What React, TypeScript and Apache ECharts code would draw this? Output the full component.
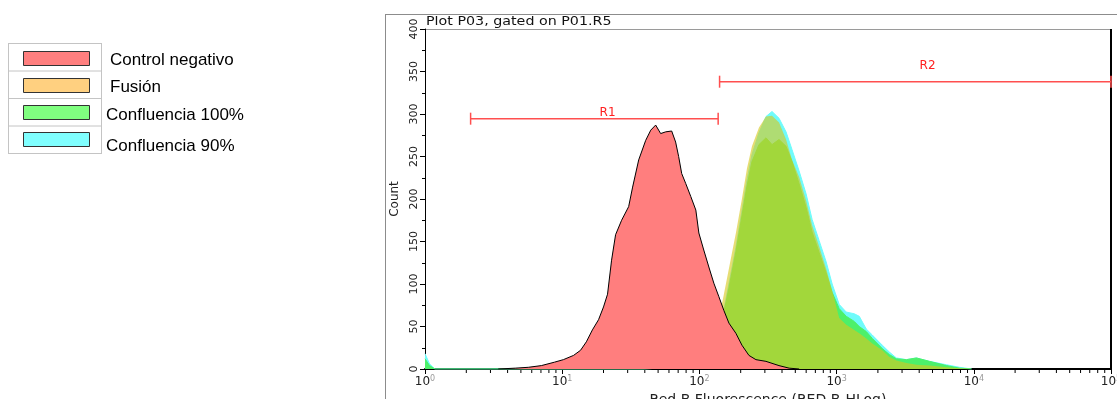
import React, { useEffect, useRef } from "react";
import * as echarts from "echarts";

const seriesNames = ["Control negativo", "Fusión", "Confluencia 100%", "Confluencia 90%"];
const legendColors = ["#ff7f7f", "#ffd080", "#80ff80", "#80ffff"];

// Control negativo: fluorescence (RED-B-HLog) and count
const controlX = [3.42, 4.55, 5.66, 7.05, 8.77, 10.2, 12.1, 13.6, 15.0, 16.6, 18.4, 20.0, 21.4, 22.9, 24.5, 27.1, 30.5, 32.6, 36.1, 40.6, 44.2, 48.0, 52.2, 56.8, 62.8, 67.1, 70.6, 74.3, 79.6, 86.5, 94.2, 99.1, 107.6, 117.2, 127.4, 138.7, 150.7, 164.1, 184.5, 204.2, 229.6, 258.2, 305.5, 380.2, 450.8, 533.3];
const controlCount = [0, 1, 2, 4, 8, 11, 16, 22, 32, 46, 58, 73, 88, 128, 158, 175, 191, 214, 246, 269, 281, 287, 277, 279, 280, 267, 250, 230, 218, 203, 187, 160, 140, 120, 101, 85, 69, 54, 42, 28, 16, 11, 9, 4, 1, 0];

// shared fluorescence positions of the three right-hand histograms
const peakX = [39.2, 50.5, 70.7, 83.7, 99.0, 117.1, 131.8, 145.8, 164.0, 184.5, 204.1, 222.1, 241.6, 271.8, 305.8, 338.3, 380.6, 428.2, 473.6, 532.9, 599.6, 663.1, 746.2, 839.5, 928.6, 1044.7, 1175.5, 1345, 1463, 1646, 1820, 2154, 2424, 2727, 3227, 3818, 4753, 6327, 7874, 9636];
const fusionCount = [1, 3, 8, 16, 25, 38, 52, 76, 118, 160, 200, 236, 262, 284, 297, 298, 290, 270, 246, 226, 198, 169, 144, 118, 92, 60, 52, 46, 42, 36, 30, 22, 14, 10, 7, 5, 4, 2, 1, 0];
const conf100Count = [0, 1, 3, 7, 13, 24, 35, 55, 95, 138, 180, 215, 244, 264, 272, 264, 270, 262, 244, 218, 190, 161, 137, 113, 90, 71, 62, 56, 50, 44, 36, 24, 17, 12, 11, 13, 9, 4, 1, 0];
const conf90Count = [0, 1, 4, 8, 14, 26, 37, 58, 100, 143, 186, 222, 252, 278, 297, 303, 295, 279, 258, 233, 206, 176, 151, 126, 100, 76, 67, 65, 62, 47, 40, 28, 20, 13, 11, 13, 9, 5, 2, 0];

// first-channel pile-up
const lowEndX = [1, 1.08, 1.18];
const conf100LowEnd = [12, 4, 0];
const conf90LowEnd = [18, 6, 0];

// gates
const gateNames = ["R1", "R2"];
const gateStart = [2.15, 140.3];
const gateEnd = [137, 100000];
const gateLevel = [294.5, 338];
const gateLabelX = [21.4, 4600];
const gateLabelLevel = [302, 358];

const xTickExponents = [0, 1, 2, 3, 4, 5];

const pairs = (xs: number[], ys: number[]) => xs.map((x, i) => [x, ys[i]]);

const RED_FILL = "#ff7e7e";

export default function App() {
  const ref = useRef<HTMLDivElement>(null);

  useEffect(() => {
    if (!ref.current) return;
    const el = ref.current;
    const chart = echarts.init(el, undefined, { renderer: "svg" });

    const minorTicks: number[][] = [];
    for (let n = 0; n < xTickExponents.length - 1; n++) {
      for (let k = 2; k <= 9; k++) minorTicks.push([k * Math.pow(10, xTickExponents[n]), 0]);
    }

    const legendRows = [43.5, 71, 98.5, 126, 153.5];
    const swatchY = [51, 78, 105, 132];
    const labelX = [110, 110, 106, 106];
    const labelY = [59, 86.5, 114.5, 145];

    const graphic: any[] = [
      { type: "line", shape: { x1: 385, y1: 14.5, x2: 1117, y2: 14.5 }, style: { stroke: "#8c8c8c", lineWidth: 1 } },
      { type: "line", shape: { x1: 385.5, y1: 14, x2: 385.5, y2: 399 }, style: { stroke: "#8c8c8c", lineWidth: 1 } },
      { type: "line", shape: { x1: 425, y1: 29.5, x2: 1111, y2: 29.5 }, style: { stroke: "#9a9a9a", lineWidth: 1 } },
      { type: "line", shape: { x1: 1111, y1: 29, x2: 1111, y2: 370 }, style: { stroke: "#000", lineWidth: 2 } },
      {
        type: "text", x: 426, y: 21, scaleX: 1.19,
        style: { text: "Plot P03, gated on P01.R5", fill: "#111", font: '12px "DejaVu Sans"', align: "left", verticalAlign: "middle" },
      },
      { type: "line", shape: { x1: 8.5, y1: 43, x2: 8.5, y2: 154 }, style: { stroke: "#c4c4c4", lineWidth: 1 } },
      { type: "line", shape: { x1: 101.5, y1: 43, x2: 101.5, y2: 154 }, style: { stroke: "#c4c4c4", lineWidth: 1 } },
    ];
    legendRows.forEach((y) =>
      graphic.push({ type: "line", shape: { x1: 8, y1: y, x2: 102, y2: y }, style: { stroke: "#c4c4c4", lineWidth: 1 } })
    );
    seriesNames.forEach((name, i) => {
      graphic.push({
        type: "rect", shape: { x: 23.5, y: swatchY[i] + 0.5, width: 66, height: 14 },
        style: { fill: legendColors[i], stroke: "#333", lineWidth: 1 },
      });
      graphic.push({
        type: "text", x: labelX[i], y: labelY[i],
        style: { text: name, fill: "#000", font: '17px "Liberation Sans"', align: "left", verticalAlign: "middle" },
      });
    });

    chart.setOption({
      animation: false,
      grid: { left: 425, right: 6, top: 29, bottom: 30, containLabel: false, outerBoundsMode: "none" },
      xAxis: {
        type: "log", logBase: 10, min: 1, max: 100000, splitNumber: 5,
        name: "Red-B Fluorescence (RED-B-HLog)", nameLocation: "middle", nameGap: 17,
        nameTextStyle: { fontFamily: "DejaVu Sans", fontSize: 14, color: "#222" },
        axisLine: { show: true, lineStyle: { color: "#000", width: 2 } },
        axisTick: { show: true, length: 5, lineStyle: { color: "#000", width: 1 } },
        minorTick: { show: false },
        splitLine: { show: false },
        axisLabel: {
          margin: 5,
          formatter: (v: number) => `{b|10}{s|${Math.round(Math.log10(v))}}`,
          rich: {
            b: { fontFamily: "DejaVu Sans", fontSize: 12, color: "#222", lineHeight: 14 },
            s: { fontFamily: "DejaVu Sans", fontSize: 8, color: "#9a9a9a", verticalAlign: "top", lineHeight: 14 },
          },
        },
      },
      yAxis: {
        type: "value", min: 0, max: 400, interval: 50,
        name: "Count", nameLocation: "middle", nameGap: 24,
        nameTextStyle: { fontFamily: "DejaVu Sans", fontSize: 12, color: "#222" },
        axisLine: { show: true, lineStyle: { color: "#000", width: 1 } },
        axisTick: { show: true, length: 5, lineStyle: { color: "#000" } },
        minorTick: { show: true, splitNumber: 2, length: 3, lineStyle: { color: "#000" } },
        splitLine: { show: false },
        axisLabel: { rotate: 90, margin: 6, fontFamily: "DejaVu Sans", fontSize: 11, color: "#222" },
      },
      series: [
        {
          name: seriesNames[3], type: "line", symbol: "none", silent: true, z: 2,
          data: pairs(lowEndX.concat(peakX), conf90LowEnd.concat(conf90Count)),
          lineStyle: { color: "#6ffbfb", width: 1 },
          areaStyle: { color: "#6ffbfb", opacity: 1 },
        },
        {
          name: seriesNames[2], type: "line", symbol: "none", silent: true, z: 3,
          data: pairs(lowEndX.concat(peakX), conf100LowEnd.concat(conf100Count)),
          lineStyle: { color: "#4df06a", width: 1 },
          areaStyle: { color: "#4df06a", opacity: 1 },
        },
        {
          name: seriesNames[1], type: "line", symbol: "none", silent: true, z: 4,
          data: pairs(peakX, fusionCount),
          lineStyle: { width: 0, opacity: 0 },
          areaStyle: { color: "rgb(215,200,30)", opacity: 0.62 },
        },
        {
          name: seriesNames[0], type: "line", symbol: "none", silent: true, z: 10,
          data: pairs(controlX, controlCount),
          lineStyle: { color: "#000", width: 1 },
          areaStyle: { color: RED_FILL, opacity: 1 },
        },
        {
          type: "custom", silent: true, clip: false, z: 11,
          data: minorTicks,
          encode: { x: 0, y: 1 },
          renderItem: (_p: any, api: any) => {
            const p = api.coord([api.value(0), 0]);
            return { type: "line", shape: { x1: p[0], y1: p[1] + 1, x2: p[0], y2: p[1] + 4 }, style: { stroke: "#000", lineWidth: 1 } };
          },
        },
        {
          type: "custom", silent: true, clip: false, z: 12,
          data: gateNames.map((_, i) => [gateStart[i], gateEnd[i], gateLevel[i], gateLabelX[i], gateLabelLevel[i]]),
          encode: { x: [0, 1], y: 2 },
          renderItem: (params: any, api: any) => {
            const a = api.coord([api.value(0), api.value(2)]);
            const b = api.coord([api.value(1), api.value(2)]);
            const t = api.coord([api.value(3), api.value(4)]);
            const stroke = "#ff4f4f";
            return {
              type: "group",
              children: [
                { type: "line", shape: { x1: a[0], y1: a[1], x2: b[0], y2: b[1] }, style: { stroke, lineWidth: 1.5 } },
                { type: "line", shape: { x1: a[0], y1: a[1] - 6, x2: a[0], y2: a[1] + 6 }, style: { stroke, lineWidth: 1.5 } },
                { type: "line", shape: { x1: b[0], y1: b[1] - 6, x2: b[0], y2: b[1] + 6 }, style: { stroke, lineWidth: 1.5 } },
                {
                  type: "text", x: t[0], y: t[1],
                  style: { text: gateNames[params.dataIndex], fill: "#ff2020", font: '12px "DejaVu Sans"', align: "center", verticalAlign: "middle" },
                },
              ],
            };
          },
        },
      ],
      graphic,
    });

    // multiply-blend the control histogram fill so the overlap darkens as in the original overlay
    const applyBlend = () => {
      el.querySelectorAll("path").forEach((p) => {
        const f = (p.getAttribute("fill") || "").toLowerCase().replace(/\s/g, "");
        if (f === RED_FILL || f === "rgb(255,126,126)") (p as SVGElement).style.mixBlendMode = "multiply";
      });
    };
    applyBlend();
    chart.on("finished", applyBlend);
    const timer = window.setTimeout(applyBlend, 50);

    return () => {
      window.clearTimeout(timer);
      chart.dispose();
    };
  }, []);

  return (
    <div ref={ref} style={{ position: "absolute", left: 0, top: 0, width: 1117, height: 399, background: "#fff" }} />
  );
}
